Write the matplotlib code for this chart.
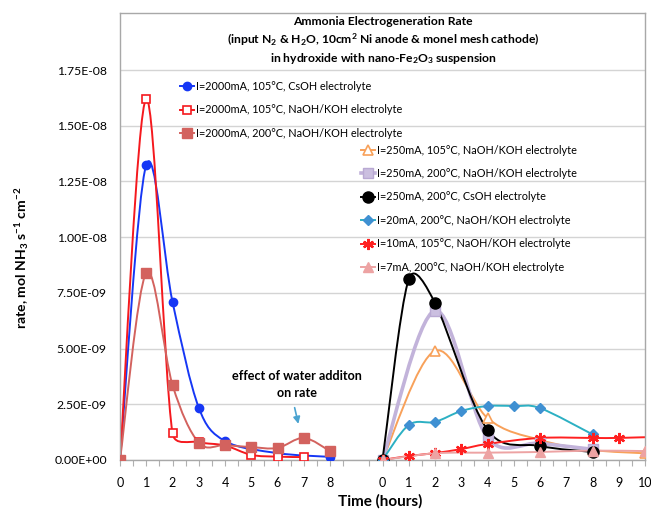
import numpy as np
import matplotlib
matplotlib.use("Agg")
import matplotlib.pyplot as plt
from matplotlib.path import Path
from matplotlib.patches import PathPatch, Rectangle
from matplotlib.lines import Line2D

plt.rcParams['font.family'] = ['Lato', 'DejaVu Sans']
plt.rcParams['mathtext.fontset'] = 'custom'
plt.rcParams['mathtext.rm'] = 'Lato:bold'
plt.rcParams['mathtext.it'] = 'Lato:bold'
plt.rcParams['mathtext.bf'] = 'Lato:bold'

# ---- data (time in hours, rate in mol NH3 s-1 cm-2) ----
# left group: 2000 mA runs
cs2000_x = [0, 1, 2, 3, 4, 6, 8]
cs2000_y = [0, 1.325e-8, 7.1e-9, 2.35e-9, 8.5e-10, 3.1e-10, 1.4e-10]
na2000_105_x = [0, 1, 2, 3, 4, 5, 6, 7]
na2000_105_y = [0, 1.62e-8, 1.2e-9, 8.0e-10, 6.5e-10, 2.3e-10, 1.5e-10, 1.3e-10]
na2000_200_x = [0, 1, 2, 3, 4, 5, 6, 7, 8]
na2000_200_y = [0, 8.4e-9, 3.37e-9, 7.8e-10, 6.7e-10, 5.8e-10, 5.4e-10, 9.9e-10, 4.0e-10]

# right group: low current runs
na250_105_x = [0, 2, 4, 6, 8, 10]
na250_105_y = [0, 4.9e-9, 1.88e-9, 9.0e-10, 4.5e-10, 3.0e-10]
na250_200_x = [0, 2, 4, 6, 8]
na250_200_y = [0, 6.7e-9, 1.0e-9, 7.5e-10, 4.8e-10]
cs250_x = [0, 1, 2, 4, 6, 8]
cs250_y = [0, 8.12e-9, 7.05e-9, 1.35e-9, 6.3e-10, 3.6e-10]
na20_x = [0, 1, 2, 3, 4, 5, 6, 8]
na20_y = [0, 1.57e-9, 1.71e-9, 2.2e-9, 2.42e-9, 2.42e-9, 2.33e-9, 1.15e-9]
na10_x = [0, 1, 2, 3, 4, 6, 8, 9, 11]
na10_y = [0, 1.8e-10, 3.1e-10, 4.9e-10, 7.2e-10, 9.9e-10, 9.9e-10, 9.9e-10, 1.06e-9]
na7_x = [0, 2, 4, 6, 8, 10]
na7_y = [0, 3.0e-10, 3.3e-10, 3.6e-10, 4.2e-10, 4.0e-10]

left_ticks = list(range(0, 9))
right_ticks = list(range(0, 11))
right_offset = 10

fig = plt.figure(figsize=(6.51, 5.12), dpi=100)
W, H = 651, 512
ax = fig.add_axes([120 / W, 1 - 460 / H, 525 / W, 447 / H])
XMAX, YMAX = 20, 2.006e-8
ax.set_xlim(0, XMAX)
ax.set_ylim(0, YMAX)
SX, SY = 525 / XMAX, 447 / YMAX   # px per data unit


def smooth(xs, ys):
    # excel-style smoothed line, bezier segments, arms limited to half the segment
    p = np.column_stack([np.array(xs) * SX, np.array(ys) * SY]).astype(float)
    verts = [p[0]]
    codes = [Path.MOVETO]
    n = len(p)

    def arm(v, seg):
        L = np.hypot(*v)
        lim = 0.5 * np.hypot(*seg)
        return v * (lim / L) if L > lim else v

    for i in range(n - 1):
        p0 = p[i - 1] if i > 0 else p[i]
        p3 = p[i + 2] if i + 2 < n else p[i + 1]
        seg = p[i + 1] - p[i]
        c1 = p[i] + arm((p[i + 1] - p0) / 6, seg)
        c2 = p[i + 1] - arm((p3 - p[i]) / 6, seg)
        verts += [c1, c2, p[i + 1]]
        codes += [Path.CURVE4] * 3
    v = np.array(verts)
    v[:, 0] /= SX
    v[:, 1] /= SY
    return Path(v, codes)


series = [
    # x, y, offset, label, line colour, lw, marker kw
    (cs2000_x, cs2000_y, 0, 'I=2000mA, 105°C, CsOH electrolyte', '#1637f5', 1.4,
     dict(marker='o', ms=6, mfc='#1637f5', mec='#1637f5')),
    (na2000_105_x, na2000_105_y, 0, 'I=2000mA, 105°C, NaOH/KOH electrolyte', '#f5191e', 1.4,
     dict(marker='s', ms=6, mfc='white', mec='#f5191e', mew=1.2)),
    (na2000_200_x, na2000_200_y, 0, 'I=2000mA, 200°C, NaOH/KOH electrolyte', '#d3625e', 1.4,
     dict(marker='s', ms=6.5, mfc='#d3625e', mec='#d3625e')),
    (na250_105_x, na250_105_y, right_offset, 'I=250mA, 105°C, NaOH/KOH electrolyte', '#f8a15a', 1.4,
     dict(marker='^', ms=7, mfc='white', mec='#f8a15a', mew=1.2)),
    (na250_200_x, na250_200_y, right_offset, 'I=250mA, 200°C, NaOH/KOH electrolyte', '#c2b3da', 2.6,
     dict(marker='s', ms=7, mfc='#cbbfe0', mec='#b9a9d3')),
    (cs250_x, cs250_y, right_offset, 'I=250mA, 200°C, CsOH electrolyte', 'black', 1.4,
     dict(marker='o', ms=8, mfc='black', mec='black')),
    (na20_x, na20_y, right_offset, 'I=20mA, 200°C, NaOH/KOH electrolyte', '#2cb0c3', 1.4,
     dict(marker='D', ms=5, mfc='#3f90d2', mec='#3f90d2')),
    (na10_x, na10_y, right_offset, 'I=10mA, 105°C, NaOH/KOH electrolyte', '#ff2020', 1.4,
     dict(marker=(6, 2, 0), ms=8, mfc='#ff2020', mec='#ff2020', mew=1.6)),
    (na7_x, na7_y, right_offset, 'I=7mA, 200°C, NaOH/KOH electrolyte', '#eda3a3', 1.4,
     dict(marker='^', ms=7, mfc='#eda3a3', mec='#eda3a3')),
]

# grid + white areas behind title/legends (excel layering)
ax.set_yticks(np.arange(0, 1.76e-8, 2.5e-9))
ax.yaxis.grid(True, color='#d4d4d4', lw=1.0, zorder=0)
ax.set_axisbelow(True)


def px_rect(x0, y0, x1, y1):
    ax.add_patch(Rectangle(((x0 - 120) / 525, (460 - y1) / 447), (x1 - x0) / 525, (y1 - y0) / 447,
                           transform=ax.transAxes, facecolor='white', edgecolor='none', zorder=0.5))


px_rect(174, 13, 627, 150)
px_rect(186, 150, 627, 195)
px_rect(350, 195, 627, 280)

handles = []
for xs, ys, off, label, col, lw, mk in series:
    xx = [x + off for x in xs]
    ax.add_patch(PathPatch(smooth(xx, ys), fill=False, edgecolor=col, lw=lw, zorder=2,
                           capstyle='round', joinstyle='round'))
    ax.plot(xx, ys, ls='none', zorder=3, clip_on=True, **mk)
    handles.append(Line2D([], [], color=col, lw=lw, label=label, **mk))

# x ticks: two time axes side by side
pos = left_ticks + [t + right_offset for t in right_ticks]
labs = [str(t) for t in left_ticks] + [str(t) for t in right_ticks]
ax.set_xticks(pos)
ax.set_xticklabels(labs)
ax.set_xticks(np.arange(0.5, 20, 1.0), minor=True)
ax.tick_params(axis='x', which='both', length=4, width=0.8, color='#b0b0b0', pad=8.5, labelsize=9)
ax.tick_params(axis='y', length=0, pad=9.5, labelsize=8.8)
ax.yaxis.set_major_formatter(plt.FuncFormatter(lambda v, p: '{:.2E}'.format(v)))

for s in ax.spines.values():
    s.set_color('#a8a8a8')
    s.set_linewidth(1.0)

fig.text(380 / W, 1 - 501 / H, 'Time (hours)', ha='center', va='center',
         fontsize=11, fontweight='bold')
fig.text(22 / W, 1 - 258 / H, r'rate, mol NH$_3$ s$^{-1}$ cm$^{-2}$', rotation=90,
         ha='center', va='center', fontsize=10.1, fontweight='bold')

title_lines = ['Ammonia Electrogeneration Rate',
               r'(input N$_2$ & H$_2$O, 10cm$^2$ Ni anode & monel mesh cathode)',
               r'in hydroxide with nano-Fe$_2$O$_3$ suspension']
for txt, yb in zip(title_lines, [25, 44, 62]):
    fig.text(383 / W, 1 - yb / H, txt, ha='center', va='baseline', fontsize=8.7,
             fontweight='bold', zorder=4)

# annotation
ax.annotate('', xy=((299 - 120) / SX, 1.5e-9), xytext=((294 - 120) / SX, 2.47e-9),
            arrowprops=dict(arrowstyle='-|>', color='#4aa3d0', lw=1.2, mutation_scale=10), zorder=4)
for txt, yb in zip(['effect of water additon', 'on rate'], [380, 397]):
    fig.text(297 / W, 1 - yb / H, txt, ha='center', va='baseline', fontsize=9.1,
             fontweight='bold', zorder=4)

leg_kw = dict(loc='upper left', bbox_transform=fig.transFigure, frameon=False, fontsize=7.8,
              handlelength=1.3, handletextpad=0.2, labelspacing=1.15, borderpad=0, borderaxespad=0)
leg1 = ax.legend(handles=handles[:3], bbox_to_anchor=(180 / W, 1 - 81 / H), **leg_kw)
ax.add_artist(leg1)
leg1.set_zorder(5)
leg2 = ax.legend(handles=handles[3:], bbox_to_anchor=(361 / W, 1 - 144.5 / H), **leg_kw)
leg2.set_zorder(5)

plt.savefig('out.png', dpi=100)
